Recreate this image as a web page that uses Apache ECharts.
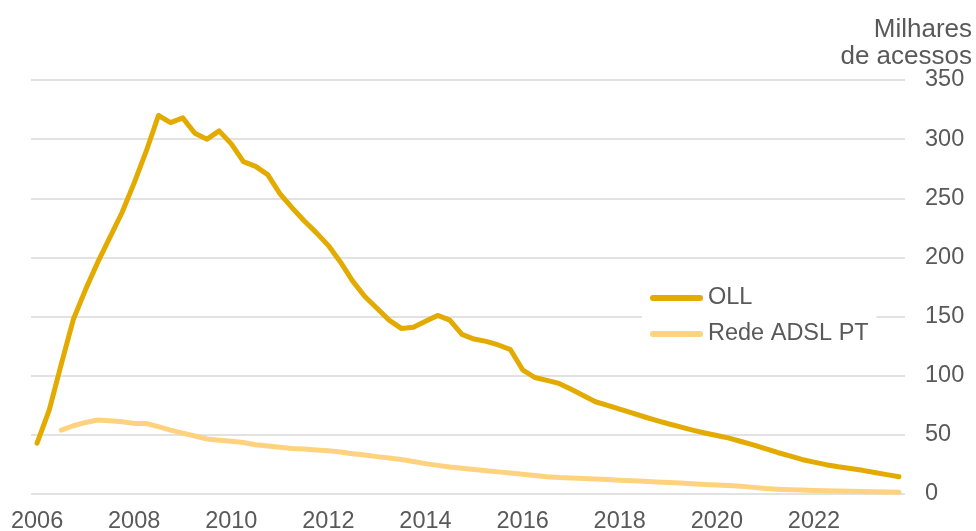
<!DOCTYPE html>
<html>
<head>
<meta charset="utf-8">
<script src="https://cdn.jsdelivr.net/npm/echarts@6/dist/echarts.min.js"></script>
<style>
html,body{margin:0;padding:0;background:#fff;}
#chart{width:976px;height:531px;}
</style>
</head>
<body>
<div id="chart"></div>
<script>
// Years covered (quarterly data, 4 points per year)
var years = [2006,2007,2008,2009,2010,2011,2012,2013,2014,2015,2016,2017,2018,2019,2020,2021,2022,2023];
var quarters = ['T1','T2','T3','T4'];

// OLL (milhares de acessos), quarterly
var oll = [43,71,110,148,173,196,217,238,263,290,
  320,314,318,305,300,307,296,281,277,270,
  254,242,231,221,210,196,180,167,157,147,
  140,141,146,151,147,135,131,129,126,122,
  105,98.5,96,93.5,88.5,83.3,78,75,71.7,68.5,
  65.3,62.3,59.4,56.8,54,51.6,49.4,47.2,44.4,41.6,
  38.3,35.1,32.2,29.2,26.9,24.8,23,21.5,20,18.2,16.4,14.6];

// Rede ADSL PT (milhares de acessos), quarterly
var adsl = [null,null,54,57.7,60.5,62.6,62,61,59.7,59.6,
  57,54,51.4,49,46.5,45.5,44.6,43.6,41.6,40.5,
  39.5,38.5,38,37.2,36.6,35.5,34.1,32.9,31.6,30.4,
  29.2,27.5,25.7,24.2,22.8,21.8,20.7,19.7,18.7,17.7,
  16.7,15.6,14.6,13.9,13.5,13.1,12.7,12.2,11.7,11.2,
  10.7,10.2,9.7,9.2,8.7,8.1,7.6,7.1,6.5,5.6,
  4.6,4,3.6,3.3,2.9,2.7,2.5,2.3,2.1,1.9,1.6,1.4];

var seriesNames = ['OLL', 'Rede ADSL PT'];
var unitLabel = 'Milhares\nde acessos';

var categories = [];
years.forEach(function(y){ quarters.forEach(function(q){ categories.push(y + ' ' + q); }); });

var FONT = '"Liberation Sans", Arial, sans-serif';
var TXT = '#595959';
var FS = 23.5;
var PILL = 'path://M3,0 H50 A3,3 0 0 1 50,6 H3 A3,3 0 0 1 3,0 Z';

var chart = echarts.init(document.getElementById('chart'), null, {renderer:'canvas'});
chart.setOption({
  animation: false,
  backgroundColor: '#ffffff',
  textStyle: {fontFamily: FONT},
  grid: {left: 31, right: 71, top: 80, bottom: 37, containLabel: false, outerBoundsMode: 'none'},
  graphic: [{
    type: 'text',
    x: 972, y: 16,
    style: {text: unitLabel, align: 'right', verticalAlign: 'top', fill: TXT,
      font: '26px ' + FONT, lineHeight: 27}
  }],
  legend: {
    orient: 'vertical',
    left: 642, top: 280,
    padding: [6, 8, 6, 8],
    backgroundColor: '#ffffff',
    icon: PILL,
    itemWidth: 53, itemHeight: 6, itemGap: 12,
    data: seriesNames,
    textStyle: {fontSize: FS, color: TXT, fontFamily: FONT, lineHeight: 24}
  },
  xAxis: {
    type: 'category',
    data: categories,
    boundaryGap: true,
    axisLine: {show: false},
    axisTick: {show: false},
    splitLine: {show: false},
    axisLabel: {
      interval: 7, margin: 16, color: TXT, fontSize: FS, fontFamily: FONT,
      formatter: function(v){ return v.slice(0,4); }
    }
  },
  yAxis: {
    type: 'value',
    position: 'right',
    min: 0, max: 350, interval: 50,
    axisLine: {show: false},
    axisTick: {show: false},
    splitLine: {lineStyle: {color: '#d9d9d9', width: 1.5}},
    axisLabel: {margin: 20, color: TXT, fontSize: FS, fontFamily: FONT}
  },
  series: [
    {name: seriesNames[0], type: 'line', data: oll, symbol: 'none', showSymbol: false,
     itemStyle: {color: '#E3AA00'},
     lineStyle: {color: '#E3AA00', width: 5, cap: 'round', join: 'round'}, z: 3},
    {name: seriesNames[1], type: 'line', data: adsl, symbol: 'none', showSymbol: false,
     itemStyle: {color: '#FFD280'},
     lineStyle: {color: '#FFD280', width: 5, cap: 'round', join: 'round'}, z: 2}
  ]
});
</script>
</body>
</html>
